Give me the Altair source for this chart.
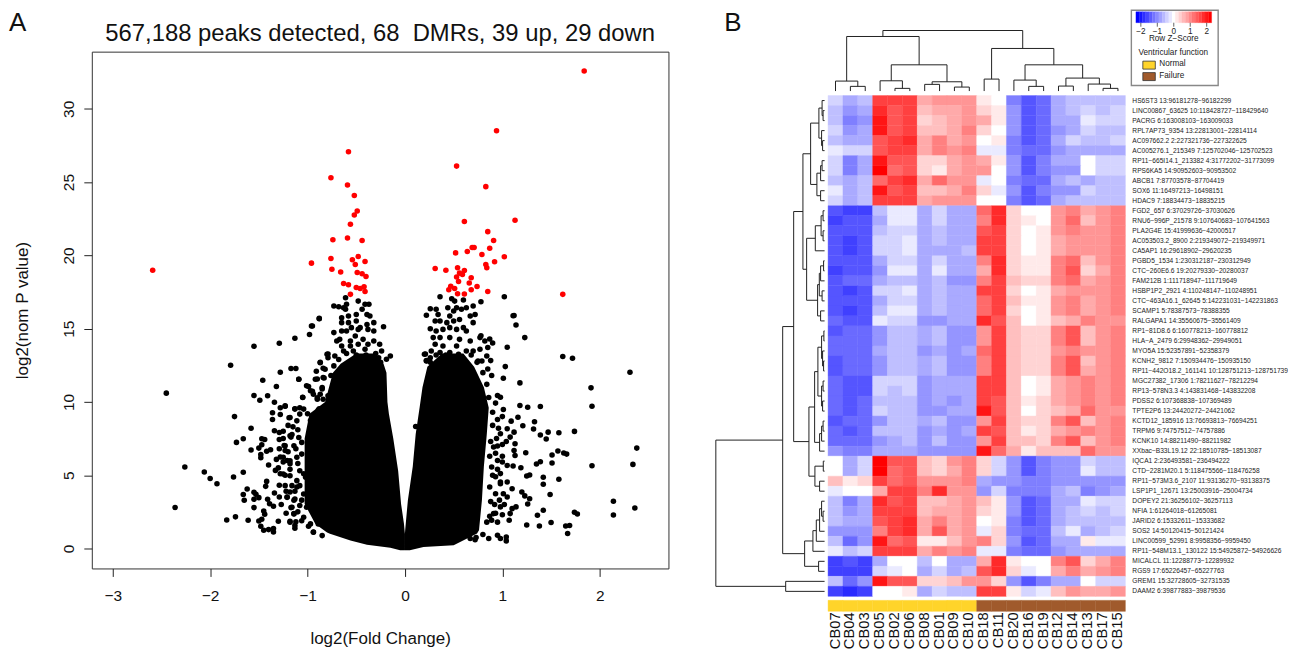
import altair as alt
import pandas as pd

FONT = "Liberation Sans"
TITLE = "567,188 peaks detected, 68\u00a0 DMRs, 39 up, 29 down"

red_points = [(1.84,32.58),(.94,28.5),(-.58,27.07),(.53,26.09),(-.76,25.3),(-.59,24.8),(.83,24.69),(-.52,24.08),
 (-.49,23.03),(-.52,22.76),(1.13,22.4),(.61,22.31),(-.56,22.12),(.85,21.62),(-.74,21.06),(-.59,21.19),(-.44,21.01),
 (.91,21.01),(.87,20.49),(.69,20.54),(.71,20.54),(.52,20.17),(.64,20.26),(.79,20.06),(1.02,19.9),(-.48,19.92),
 (-.76,19.79),(-.54,19.7),(-.41,19.58),(-.51,19.38),(-.96,19.47),(-2.59,18.99),(.92,19.56),(.83,19.38),(.84,19.15),
 (.31,19.1),(.42,18.99),(.54,19.15),(.61,18.97),(-.75,19.06),(-.66,18.86),(-.49,18.83),(-.44,18.74),(-.4,18.56),
 (.56,18.79),(.59,18.7),(.53,18.52),(.68,18.47),(.55,18.22),(.66,18.11),(-.63,18.08),(-.58,17.99),(-.5,17.81),
 (-.46,17.74),(-.42,17.86),(-.41,17.54),(-.56,17.34),(.47,17.9),(.45,17.65),(.51,17.74),(.74,17.88),(.68,17.65),
 (.85,17.54),(.54,17.38),(.61,17.36),(1.62,17.34)]

black_left = [(-2.45,10.6),(-2.36,2.8),(-2.26,5.56),(-2.06,5.22),(-2.0,4.77),(-1.93,4.42),(-1.79,12.5),(-1.75,9.0),
 (-1.83,1.95),(-1.74,2.16),(-1.61,1.93),(-1.76,4.88),(-1.66,5.2),(-1.73,7.24),(-1.66,7.49),(-1.58,8.21),(-1.55,13.8),
 (-1.29,14.0),(-1.13,14.34),(-.98,14.6),(-.95,15.18),(-.88,15.7),(-1.55,10.44),(-1.49,10.12),(-1.41,10.42),(-1.46,11.48),
 (-1.28,12.03),(-1.32,11.05),(-1.17,12.28),(-1.12,12.28),(-1.09,11.55),(-1.34,9.98),(-1.36,9.26),(-1.36,8.8),(-1.28,9.14),
 (-1.28,9.6),(-1.23,9.71),(-1.19,8.92),(-1.13,9.53),(-1.08,9.6),(-1.34,8.03),(-1.29,7.92),(-1.29,7.44),(-1.17,7.6),
 (-1.16,7.78),(-1.47,7.49),(-1.44,7.44),(-1.47,7.08),(-1.5,6.85),(-1.58,6.72),(-1.48,6.42),(-1.48,6.19),(-1.42,6.63),
 (-1.38,6.74),(-1.29,6.81),(-1.24,7.03),(-1.23,6.69),(-1.32,6.08),(-1.4,5.7),(-1.28,6.24),(-1.21,6.01),(-1.18,5.79),
 (-1.33,5.33),(-1.28,5.1),(-1.23,5.0),(-1.42,4.58),(-1.43,4.24),(-1.62,4.06),(-1.66,3.68),(-1.65,3.29),(-1.55,3.83),
 (-1.53,3.7),(-1.55,3.36),(-1.5,3.47),(-1.55,2.79),(-1.41,3.36),(-1.39,3.06),(-1.34,3.79),(-1.29,4.31),(-1.29,3.52),
 (-1.35,2.88),(-1.27,3.0),(-1.45,2.56),(-1.44,2.34),(-1.5,1.88),(-1.47,2.0),(-1.48,1.52),(-1.45,1.25),(-1.4,1.29),
 (-1.35,1.36),(-1.35,1.13),(-1.3,1.86),(-1.18,1.86),(-1.12,1.82),(-1.17,2.79),(-1.14,2.38),(-1.13,1.38),(-.99,1.52),
 (-.94,1.13),(-1.21,3.52),(-1.18,3.86),(-1.11,4.2),(-1.04,5.1),(-.97,5.15),(-1.14,3.29),(-.79,13.27),(-.87,12.71),
 (-.91,12.09),(-.84,12.3),(-.9,11.57),(-.83,11.64),(-.99,11.05),(-.95,10.73),(-1.05,10.32),
 (-.9,10.28),(-.85,10.89),(-.76,11.8),(-.88,9.53),(-1.0,9.19),(-.97,8.74),
 # upper band
 (-.61,17.11),(-.73,16.54),(-.68,16.5),(-.63,16.43),(-.6,16.66),(-.61,16.32),(-.48,16.88),(-.41,16.66),(-.37,16.66),
 (-.44,16.32),(-.5,15.97),(-.58,15.86),(-.65,15.75),(-.39,15.97),(-.36,15.86),(-.65,15.41),(-.58,15.41),(-.5,15.52),
 (-.39,15.29),(-.32,15.41),(-.22,15.13),(-.55,15.07),(-.6,14.84),(-.65,14.84),(-.73,14.73),(-.46,15.07),(-.48,14.95),
 (-.32,14.84),(-.38,14.95),(-.51,14.5),(-.67,14.27),(-.7,14.16),(-.56,14.16),(-.43,14.27),(-.32,14.16),(-.38,13.93),
 (-.26,13.93),(-.56,13.82),(-.48,13.93),(-.65,13.82),(-.8,13.25),(-.79,13.02),(-.15,13.14),(-.19,12.91),(-.72,13.14),
 (-.63,13.48),(-.24,13.48),(-.87,12.68),(-.88,15.68),(-.96,15.18),(-.82,12.23),(-.73,12.46),(-.27,13.02),(-.41,13.59),
 (-.53,13.48),(-.6,13.3),(-.5,13.2),(-.4,13.2),(-.3,13.3),(-.68,12.9),(-.25,12.7),
 # left edge
 (-1.09,11.55),(-1.01,11.1),(-.97,10.76),(-.94,10.53),(-1.05,10.3),(-.92,11.55),(-.84,11.66),(-.73,11.78),(-.87,10.53),
 (-.85,10.98),(-.9,10.19),(-.84,10.19),(-.79,10.42),(-1.23,9.73),(-1.13,9.51),(-1.04,9.51),(-.89,9.44),(-1.18,8.94),
 (-1.11,8.71),(-.94,8.94),(-1.08,9.17),(-1.18,7.69),(-1.09,7.58),(-1.23,7.01),(-1.14,7.01),(-1.06,7.24),(-1.25,6.22),
 (-1.18,5.99),(-1.11,6.22),(-1.06,6.44),(-1.25,5.08),(-1.18,4.97),(-1.08,5.31),(-1.11,4.63),(-1.23,4.29),(-1.16,4.29),
 (-1.08,4.29),(-1.02,4.86),(-1.21,3.49),(-1.13,3.38),(-1.04,3.72),(-.97,3.61),(-1.16,2.81),(-1.14,2.36),(-1.08,2.93),
 (-1.01,2.81),(-1.18,1.79),(-1.13,1.57),(-1.04,2.13),(-.97,1.68),(-.94,1.11),(-.85,.88),(-.89,1.68),
 (-1.1,8.1),(-1.15,8.3),(-1.2,8.4),(-1.12,6.8),(-1.2,6.6),(-1.1,5.8),(-1.18,5.4),(-1.13,3.9),(-1.22,3.9),(-1.1,2.5),
 (-1.06,1.9),(-1.22,2.4),(-1.06,3.3),(-1.3,5.5),(-1.25,5.9),(-1.25,7.5),(-1.25,8.0)]

black_right = [(1.12,15.9),(1.14,15.25),(1.23,14.39),(1.05,13.73),(1.62,13.1),(1.72,12.98),(2.31,12.03),(1.03,12.41),
 (1.01,11.62),(1.18,11.3),(1.91,10.96),(1.92,9.71),(.93,9.92),(1.01,9.49),(1.18,9.76),(1.26,9.64),(1.39,9.69),(1.16,8.96),
 (1.09,8.69),(1.33,8.65),(1.21,8.37),(1.32,8.15),(1.39,7.74),(1.47,7.94),(1.58,7.9),(1.74,7.99),(1.45,7.47),(2.38,6.85),
 (1.24,6.54),(1.57,6.65),(1.51,6.38),(1.63,6.51),(1.66,6.44),(1.35,5.76),(1.39,5.92),(1.51,5.83),(1.92,5.65),(2.34,5.74),
 (1.25,4.95),(1.28,5.01),(1.42,4.86),(1.42,4.38),(1.58,4.72),(1.49,3.68),(2.14,3.22),(2.36,2.77),(2.14,2.29),(1.42,2.61),
 (1.36,2.27),(1.74,2.47),(1.77,2.36),(1.25,1.61),(1.38,1.54),(1.5,1.77),(1.65,1.54),(1.69,1.57),(1.67,1.02),(1.2,3.86),
 (1.23,3.59),(1.28,3.4),(1.26,3.04),(1.14,2.84),(1.1,2.72),(1.08,2.38),(1.07,1.93),(1.1,4.08),(1.05,4.54),(.98,4.54),
 (1.19,5.51),(1.11,5.63),(1.05,5.67),(1.13,6.35),(1.12,6.69),(1.13,7.15),(1.08,7.6),(1.12,7.94),(.95,10.44),(.98,10.32),
 (.89,11.8),(.85,12.25),(.88,12.82),(.9,14.02),(.87,14.3),(.78,14.52),(.86,.68),(.95,.91),(1.04,.79),(1.04,.52),(.98,.68),
 (.67,.68),(.73,.75),(.89,1.93),(.91,2.38),(.98,2.84),(1.05,3.52),(1.01,3.74),(.93,3.74),(.98,4.42),(.89,5.56),(.98,5.11),
 (.95,6.01),(.91,6.92),(.98,7.83),(1.05,8.17),(.21,13.27),(.22,12.82),(.11,8.33),(1.02,17.18),(1.11,15.88),
 # upper band
 (.36,17.18),(.48,17.04),(.51,16.88),(.6,16.95),(.78,16.84),(.26,16.36),(.32,16.32),(.34,15.97),(.22,15.91),(.44,16.43),
 (.5,16.2),(.53,16.43),(.58,16.32),(.63,16.43),(.7,16.54),(.72,15.97),(.67,15.86),(.46,15.86),(.31,15.52),(.36,15.52),
 (.43,15.41),(.5,15.52),(.56,15.63),(.7,15.41),(.26,15.0),(.32,14.84),(.39,14.95),(.46,15.07),(.53,14.95),(.63,14.84),
 (.6,15.07),(.29,14.39),(.36,14.39),(.46,14.39),(.56,14.27),(.67,14.16),(.77,14.39),(.82,14.16),(.31,13.93),(.39,13.82),
 (.53,13.82),(.77,13.59),(.85,13.71),(.27,13.48),(.2,13.25),(.22,12.8),(.26,13.02),(.84,13.14),(.79,12.8),(.7,13.48),
 (.63,13.48),(.46,13.37),(.36,13.37),(.32,13.2),(.42,13.2),(.55,13.25),(.68,13.2),(.26,12.7),(.74,12.7),
 # right edge
 (.88,3.2),(.92,3.0),(.87,4.2),(.9,5.0),(.87,6.3),(.93,6.5),(.88,7.3),(.94,7.5),(.9,8.4),(.95,8.8),(.9,9.3),(.86,10.3),
 (.84,11.2),(.8,12.0),(.75,12.8),(.97,3.3),(.87,2.2),(.84,1.8),
 (1.0,5.9),(.95,5.4),(1.0,7.1),(1.04,7.3),(.95,7.0),(.96,8.2),(1.0,9.0),(1.0,6.3),(.93,4.9),(1.02,3.0),(.93,2.4),(.95,1.8),
 (1.0,2.3),(.8,.95),(.72,.6)]

lobe_left = [(-.12,-.05,0),(.05,-.15,0),(.25,-.39,0),(.54,-.56,0),(1.0,-.77,0),(1.1,-.8,-.002),(1.68,-.92,-.01),(3.04,-1.03,-.04),
 (5.3,-1.03,-.07),(7.5,-1.03,-.12),(9.2,-.98,-.165),(10.0,-.82,-.18),(12.0,-.74,-.19),(12.6,-.66,-.22),(13.3,-.5,-.3)]
lobe_right = [(-.12,0,.05),(.1,0,.19),(.23,0,.5),(1.02,0,.74),(1.25,.002,.76),(3.3,.03,.79),(5.6,.08,.81),(7.8,.11,.84),
 (9.6,.15,.86),(11.0,.18,.81),(12.4,.23,.71),(13.3,.38,.6)]

columns = ["CB07","CB04","CB03","CB05","CB02","CB06","CB08","CB01","CB09","CB10",
           "CB18","CB11","CB20","CB16","CB19","CB12","CB14","CB13","CB17","CB15"]
groups = ["Normal"]*10 + ["Failure"]*10
group_colors = {"Normal": "#FFD42A", "Failure": "#A05A2C"}

rows = """HS6ST3 13:96181278−96182299
LINC00867_63625 10:118428727−118429640
PACRG 6:163008103−163009033
RPL7AP73_9354 13:22813001−22814114
AC097662.2 2:227321736−227322625
AC005276.1_215349 7:125702046−125702523
RP11−665I14.1_213382 4:31772202−31773099
RPS6KA5 14:90952603−90953502
ABCB1 7:87703578−87704419
SOX6 11:16497213−16498151
HDAC9 7:18834473−18835215
FGD2_657 6:37029726−37030626
RNU6−996P_21578 9:107640683−107641563
PLA2G4E 15:41999636−42000517
AC053503.2_8900 2:219349072−219349971
CA5AP1 16:29618902−29620235
PGBD5_1534 1:230312187−230312949
CTC−260E6.6 19:20279330−20280037
FAM212B 1:111718947−111719649
HSBP1P2_2921 4:110248147−110248951
CTC−463A16.1_62645 5:142231031−142231863
SCAMP1 5:78387573−78388355
RALGAPA1 14:35560675−35561409
RP1−81D8.6 6:160778213−160778812
HLA−A_2479 6:29948362−29949051
MYO5A 15:52357891−52358379
KCNH2_9812 7:150934476−150935150
RP11−442O18.2_161141 10:128751213−128751739
MGC27382_17306 1:78211627−78212294
RP13−578N3.3 4:143831468−143832208
PDSS2 6:107368838−107369489
TPTE2P6 13:24420272−24421062
KCTD12_185916 13:76693813−76694251
TRPM6 9:74757512−74757886
KCNK10 14:88211490−88211982
XXbac−B33L19.12 22:18510785−18513087
IQCA1 2:236493581−236494222
CTD−2281M20.1 5:118475566−118476258
RP11−573M3.6_2107 11:93136270−93138375
LSP1P1_12671 13:25003916−25004734
DOPEY2 21:36256102−36257113
NFIA 1:61264018−61265081
JARID2 6:15332611−15333682
SOS2 14:50120415−50121424
LINC00599_52991 8:9958356−9959450
RP11−548M13.1_130122 15:54925872−54926626
MICALCL 11:12288773−12289932
RGS9 17:65226457−65227763
GREM1 15:32728605−32731535
DAAM2 6:39877883−39879536""".split("\n")

# z-scores in steps of 0.2 (values below are number of steps)
levels = [
[-2,-4,-3,9,9,9,4,5,5,5,1,0,-6,-8,-7,-4,-3,-3,-3,-3],
[-3,-5,-4,10,8,9,3,4,4,5,2,1,-5,-8,-7,-4,-3,-2,-3,-2],
[-3,-6,-5,11,8,9,2,3,4,5,4,1,-5,-8,-7,-4,-4,-1,-2,-2],
[-2,-5,-4,11,8,9,3,3,4,6,2,0,-5,-8,-7,-5,-4,-2,-3,-3],
[-3,-4,-4,8,9,10,4,6,4,5,0,1,-6,-8,-7,-4,-2,-3,-3,-2],
[-1,-2,-2,8,9,9,4,6,5,6,-1,-1,-6,-7,-7,-5,-4,-4,-4,-4],
[-2,-6,-4,11,8,8,2,2,4,5,4,1,-5,-8,-6,-4,-4,0,-2,-2],
[-2,-6,-4,12,7,8,2,1,4,5,5,0,-5,-8,-6,-5,-5,0,-2,-2],
[-3,-4,-3,7,9,10,4,7,5,5,-1,0,-6,-7,-7,-4,-3,-4,-3,-3],
[-1,-4,-3,11,8,9,3,3,4,6,2,-1,-5,-8,-6,-5,-5,-2,-3,-3],
[-2,-4,-3,9,9,9,4,5,5,5,0,0,-6,-8,-7,-4,-3,-3,-3,-3],
[-8,-9,-9,-3,-1,-1,-4,-2,-4,-4,7,10,2,0,0,5,6,4,5,6],
[-9,-8,-8,-4,-1,-1,-4,-2,-4,-4,6,10,2,1,0,5,7,3,5,6],
[-8,-8,-8,-3,-2,-2,-4,-3,-4,-4,8,9,2,0,1,5,6,5,5,6],
[-8,-9,-8,-2,-2,-1,-4,-3,-4,-4,9,9,2,0,1,4,5,5,5,6],
[-8,-9,-8,-2,-2,-1,-4,-4,-4,-3,9,9,2,0,1,4,5,5,5,6],
[-8,-8,-8,-4,-2,-2,-4,-2,-4,-4,6,10,2,1,1,6,7,3,5,6],
[-9,-8,-8,-5,-1,-1,-4,-1,-4,-4,4,10,2,1,1,6,8,2,4,6],
[-8,-7,-7,-4,-3,-3,-4,-3,-5,-5,6,9,3,2,2,6,7,4,5,6],
[-8,-9,-8,-2,-2,-1,-4,-3,-4,-4,9,9,2,0,1,4,5,5,5,6],
[-8,-8,-8,-4,-2,-2,-4,-3,-4,-4,7,9,3,1,1,5,6,4,5,6],
[-8,-9,-8,-3,-1,-1,-4,-3,-4,-4,7,9,2,0,1,5,6,4,5,6],
[-7,-8,-8,-1,-2,-2,-5,-5,-4,-4,10,8,3,0,1,3,4,6,5,5],
[-8,-7,-7,-5,-3,-3,-4,-3,-5,-5,5,9,3,2,2,6,8,3,5,6],
[-7,-7,-7,-5,-3,-3,-4,-3,-5,-5,5,9,3,2,2,6,8,3,5,6],
[-7,-7,-7,-4,-3,-3,-5,-4,-5,-4,7,9,3,2,2,5,6,5,5,6],
[-8,-7,-7,-5,-3,-3,-4,-3,-5,-5,6,9,3,2,2,6,8,3,5,6],
[-8,-7,-7,-5,-3,-3,-4,-3,-5,-5,6,9,3,2,2,6,8,4,5,6],
[-7,-8,-8,-2,-2,-2,-5,-4,-4,-4,9,9,3,0,1,4,5,6,5,6],
[-7,-8,-8,-2,-3,-2,-5,-4,-4,-4,9,9,3,0,1,4,5,6,5,6],
[-7,-8,-7,-3,-3,-3,-5,-4,-5,-4,9,8,3,1,2,4,5,6,5,6],
[-7,-8,-7,-2,-3,-3,-5,-5,-4,-4,11,8,3,0,2,3,4,7,5,5],
[-8,-7,-7,-5,-3,-3,-4,-3,-5,-5,5,9,3,2,2,6,8,3,5,6],
[-7,-8,-7,-3,-3,-3,-5,-4,-5,-4,9,8,3,1,2,4,5,6,5,6],
[-7,-7,-7,-5,-4,-3,-5,-3,-5,-5,5,9,3,3,2,6,8,3,5,6],
[-5,-6,-6,-4,-4,-4,-5,-5,-5,-5,11,7,4,1,3,3,3,7,5,5],
[0,-4,-2,12,8,8,3,2,5,6,2,-2,-5,-8,-6,-5,-5,-2,-3,-3],
[0,-4,-2,12,7,8,3,2,4,6,2,-2,-5,-8,-6,-5,-5,-1,-3,-3],
[3,1,2,9,7,8,5,5,5,6,-4,-5,-5,-6,-6,-5,-5,-5,-5,-5],
[-1,0,0,4,9,9,6,10,5,5,-5,-2,-6,-6,-6,-4,-3,-6,-5,-4],
[-3,-6,-4,10,8,9,3,3,4,5,3,1,-5,-8,-7,-4,-4,-1,-2,-2],
[-3,-5,-4,9,9,9,3,4,4,5,2,1,-5,-8,-7,-4,-3,-2,-3,-2],
[-3,-4,-4,8,9,10,4,6,4,5,0,1,-6,-8,-7,-4,-3,-3,-3,-3],
[-5,-5,-5,6,9,10,4,8,4,5,-1,2,-6,-7,-7,-3,-1,-4,-3,-2],
[-3,-7,-5,11,7,8,1,1,3,5,6,2,-5,-8,-7,-4,-4,1,-1,-1],
[-1,-3,-2,9,9,9,4,6,5,6,-1,-1,-6,-7,-7,-5,-4,-4,-4,-4],
[-9,-8,-9,-4,0,0,-3,0,-4,-4,4,10,1,0,0,6,8,2,4,6],
[-9,-9,-9,-2,-1,0,-4,-2,-4,-3,8,10,2,-1,0,4,6,4,5,6],
[-3,-7,-5,11,8,8,2,2,3,5,5,2,-5,-8,-6,-4,-4,0,-2,-2],
[-9,-10,-9,0,0,1,-4,-2,-3,-3,9,9,1,-2,-1,3,5,4,4,5],
]

# dendrograms: (height, child, child); an int is a leaf (1-based position)
col_tree = (60.7,
  (54.7,
    (10,1,(4.7,2,3)),
    (26.3,(10.3,4,(2.7,5,6)),(9.3,(6.7,7,8),(4,9,10)))),
  (42.7,
    (12,11,12),
    (26.3,(11,13,(4.7,14,15)),(13,(5,16,17),(7,18,(2.7,19,20))))))

row_tree = (109,
  (42,
    (31,
      (21.7,
        (14,
          (5.7,(2.5,1,(1.5,2,3)),(3,4,(2,5,6))),
          (7.7,(4,(2.5,7,8),9),(4,10,11))),
        (18,
          (9.3,(3.5,(1.5,12,13),(1.5,14,15)),16),
          (7,(5.3,(4,(1,17,18),19),(2.5,20,21)),(4,22,23)))),
      (15.7,
        (10,
          (6.7,
            (3,(0.7,24,25),(2,26,(1,27,28))),
            (3,(1.5,29,30),(2,31,32))),
          (5,(3,(1.5,33,34),35),36)),
        (9.7,(1.3,37,38),(5,39,40)))),
    (20,
      (11.7,(8.3,(5,(3,41,(1.5,42,43)),44),45),46),
      (6,47,48))),
  (39,49,50))


def segments(node, out):
    if isinstance(node, int):
        return node - 0.5, 0.0
    h, a, b = node
    pa, ha = segments(a, out)
    pb, hb = segments(b, out)
    out.append(dict(p=pa, p2=pb, h=h, h2=h))
    out.append(dict(p=pa, p2=pa, h=ha, h2=h))
    out.append(dict(p=pb, p2=pb, h=hb, h2=h))
    return (pa + pb) / 2, h


# ---------- panel A ----------
VX = alt.Scale(domain=[-3.215, 2.705], nice=False, zero=False)
VY = alt.Scale(domain=[-1.36, 33.9], nice=False, zero=False)
x_axis = alt.Axis(values=[-3,-2,-1,0,1,2], format="d", grid=False, domain=False, tickSize=8, tickColor="#222",
                  labelFont=FONT, labelFontSize=15.5, labelColor="#111", labelPadding=12, title="log2(Fold Change)",
                  titleFont=FONT, titleFontSize=17, titleFontWeight="normal", titleColor="#111", titlePadding=27)
y_axis = alt.Axis(values=[0,5,10,15,20,25,30], format="d", grid=False, domain=False, tickSize=8, tickColor="#222",
                  labelFont=FONT, labelFontSize=15.5, labelColor="#111", labelAngle=270, labelAlign="center",
                  labelBaseline="bottom", labelPadding=7, title="log2(nom P value)",
                  titleFont=FONT, titleFontSize=17, titleFontWeight="normal", titleColor="#111", titlePadding=30)


def lobe(rows_):
    d = pd.DataFrame(rows_, columns=["y", "x", "x2"])
    return alt.Chart(d).mark_area(orient="horizontal", color="black").encode(
        y=alt.Y("y:Q", scale=VY, axis=y_axis, title="log2(nom P value)"),
        x=alt.X("x:Q", scale=VX, axis=x_axis, title="log2(Fold Change)"),
        x2="x2:Q")


def dots(pts, colour):
    d = pd.DataFrame(pts, columns=["x", "y"])
    return alt.Chart(d).mark_circle(size=31, color=colour, opacity=1).encode(
        x=alt.X("x:Q", scale=VX, axis=x_axis, title="log2(Fold Change)"),
        y=alt.Y("y:Q", scale=VY, axis=y_axis, title="log2(nom P value)"))


ONE = alt.Data(values=[{"k": 1}])


def label(text, x, y, size, align="left", colour="#111", baseline="middle"):
    return alt.Chart(ONE).mark_text(text=text, font=FONT, fontSize=size, align=align, baseline=baseline, color=colour).encode(
        x=alt.value(x), y=alt.value(y))


volcano = alt.layer(
    lobe(lobe_left), lobe(lobe_right),
    dots(black_left, "black"), dots(black_right, "black"), dots(red_points, "#FF0000"),
    label("A", -83, -21, 26, baseline="alphabetic"),
    label(TITLE, 289, -18, 23.9, "center"),
).properties(
    width=578, height=518,
    view=alt.ViewBackground(stroke="#333", strokeWidth=1),
)

# ---------- panel B ----------
PX0, PX1, PY0, PY1 = 700.0, 1280.0, 50.0, 568.0
HX0, HX1, HY0, HY1 = 828.0, 1126.0, 94.0, 596.0
cw = (HX1 - HX0) / 20
rh = (HY1 - HY0) / 50


def sx(v0, p0, per_px):
    return alt.Scale(domain=[v0 + (PX0 - p0) * per_px, v0 + (PX1 - p0) * per_px], nice=False, zero=False)


def sy(v0, p0, per_px):
    return alt.Scale(domain=[v0 + (PY1 - p0) * per_px, v0 + (PY0 - p0) * per_px], nice=False, zero=False)


col_x = sx(0, HX0, 1 / cw)
row_y = sy(0, HY0, 1 / rh)
Z = alt.Scale(domain=[-2.4, 0, 2.4], range=["#0000FF", "#FFFFFF", "#FF0000"], interpolate="rgb")

cells = pd.DataFrame([dict(c=j, c2=j + 1, r=i, r2=i + 1, z=levels[i][j] * 0.2)
                      for i in range(50) for j in range(20)])
heat = alt.Chart(cells).mark_rect(strokeWidth=0.4).encode(
    x=alt.X("c:Q", scale=col_x, axis=None), x2="c2:Q",
    y=alt.Y("r:Q", scale=row_y, axis=None), y2="r2:Q",
    color=alt.Color("z:Q", scale=Z, legend=None),
    stroke=alt.Stroke("z:Q", scale=Z, legend=None))

bar_df = pd.DataFrame(dict(c=range(20), c2=[i + 1 for i in range(20)], g=groups))
GS = alt.Scale(domain=list(group_colors), range=list(group_colors.values()))
bar = alt.Chart(bar_df).mark_rect(strokeWidth=0.4).encode(
    x=alt.X("c:Q", scale=col_x, axis=None), x2="c2:Q",
    y=alt.value(600 - PY0), y2=alt.value(611 - PY0),
    color=alt.Color("g:N", scale=GS, legend=None),
    stroke=alt.Stroke("g:N", scale=GS, legend=None))

seg_top = []
segments(col_tree, seg_top)
top = alt.Chart(pd.DataFrame(seg_top)).mark_rule(color="#222", strokeWidth=1).encode(
    x=alt.X("p:Q", scale=col_x, axis=None), x2="p2:Q",
    y=alt.Y("h:Q", scale=sy(0, 89.5, -1.0), axis=None), y2="h2:Q")

seg_left = []
segments(row_tree, seg_left)
left = alt.Chart(pd.DataFrame(seg_left)).mark_rule(color="#222", strokeWidth=1).encode(
    y=alt.Y("p:Q", scale=row_y, axis=None), y2="p2:Q",
    x=alt.X("h:Q", scale=sx(0, 824.5, -1.0), axis=None), x2="h2:Q")

row_df = pd.DataFrame(dict(name=rows, r=[i + 0.5 for i in range(50)]))
row_text = alt.Chart(row_df).mark_text(font=FONT, fontSize=6.65, align="left", baseline="middle", color="#222", dx=HX1 + 7 - PX0).encode(
    x=alt.value(0), y=alt.Y("r:Q", scale=row_y, axis=None), text="name:N")

col_df = pd.DataFrame(dict(name=columns, c=[i + 0.5 for i in range(20)]))
col_text = alt.Chart(col_df).mark_text(font=FONT, fontSize=14.8, angle=270, align="right", baseline="middle", color="#111").encode(
    x=alt.X("c:Q", scale=col_x, axis=None), y=alt.value(612 - PY0), text="name:N")

# colour key
KX = 1174.5
key_x = sx(0, KX, 1 / 16.5)
ZK = alt.Scale(domain=[-2.2, 0, 2.2], range=["#0000FF", "#FFFFFF", "#FF0000"], interpolate="rgb")
key_df = pd.DataFrame([dict(a=(l - 0.5) * 0.2, b=(l + 0.5) * 0.2, z=l * 0.2) for l in range(-11, 12)])
key = alt.Chart(key_df).mark_rect(strokeWidth=0.3).encode(
    x=alt.X("a:Q", scale=key_x, axis=None), x2="b:Q",
    y=alt.value(10 - PY0), y2=alt.value(21 - PY0),
    color=alt.Color("z:Q", scale=ZK, legend=None),
    stroke=alt.Stroke("z:Q", scale=ZK, legend=None))
tick_df = pd.DataFrame(dict(t=[-2, -1, 0, 1, 2], s=["\u22122", "\u22121", "0", "1", "2"]))
key_ticks = alt.Chart(tick_df).mark_rule(color="#222", strokeWidth=0.7).encode(
    x=alt.X("t:Q", scale=key_x, axis=None), y=alt.value(21 - PY0), y2=alt.value(25 - PY0))
key_labels = alt.Chart(tick_df).mark_text(font=FONT, fontSize=8.2, color="#222", baseline="middle").encode(
    x=alt.X("t:Q", scale=key_x, axis=None), y=alt.value(30 - PY0), text="s:N")


def box(x0, x1, y0, y1, fill, stroke, sw=1.0):
    return alt.Chart(ONE).mark_rect(fill=fill, stroke=stroke, strokeWidth=sw).encode(
        x=alt.value(x0 - PX0), x2=alt.value(x1 - PX0), y=alt.value(y0 - PY0), y2=alt.value(y1 - PY0))


panel = alt.layer(
    box(1132, 1219, 8.5, 84, "white", "#888", 1.4),
    heat, bar, top, left, row_text, col_text, key, key_ticks, key_labels,
    label("Row Z\u2212Score", 1174.5 - PX0, 37.7 - PY0, 8.2, "center", "#222"),
    label("Ventricular function", 1174 - PX0, 51 - PY0, 8.2, "center", "#222"),
    box(1143.5, 1156, 59.5, 67.5, "#FFD42A", "#333", 0.8),
    box(1143.5, 1156, 71, 79, "#A05A2C", "#333", 0.8),
    label("Normal", 1160 - PX0, 62 - PY0, 8.2, "left", "#222"),
    label("Failure", 1160 - PX0, 74 - PY0, 8.2, "left", "#222"),
    label("B", 724 - PX0, 29 - PY0, 26, baseline="alphabetic"),
).resolve_scale(x="independent", y="independent", color="independent", stroke="independent").properties(
    width=PX1 - PX0, height=PY1 - PY0)

chart = alt.hconcat(volcano, panel, spacing=31).configure_view(stroke=None).properties(padding=0, background="white")
chart.save("out.html", embed_options={"renderer": "svg", "actions": False})
